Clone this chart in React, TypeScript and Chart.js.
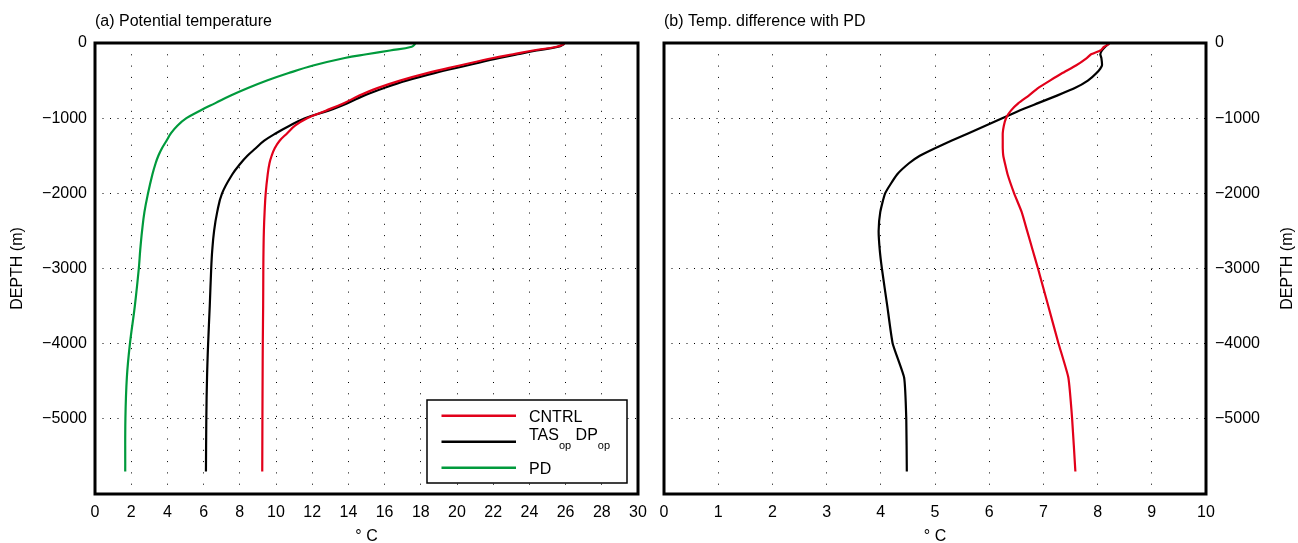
import React, { useEffect, useRef } from 'react';
import { Chart, registerables } from 'chart.js';

Chart.register(...registerables);

const FONT = '"Liberation Sans", Arial, Helvetica, sans-serif';

// Depth levels (m) shared by all profiles
const depthLevels = [-10, -50, -100, -150, -200, -300, -400, -500, -600, -700, -800, -900, -1000, -1100, -1200, -1300, -1400, -1500, -1600, -1750, -2000, -2250, -2500, -2750, -3000, -3500, -4000, -4450, -5000, -5700];

// (a) Potential temperature (°C)
const potCNTRL = [25.95, 25.5, 24.2, 23.1, 22.0, 20.15, 18.35, 16.85, 15.6, 14.6, 13.75, 12.75, 11.72, 11.05, 10.62, 10.2, 9.93, 9.76, 9.64, 9.54, 9.43, 9.37, 9.33, 9.31, 9.3, 9.29, 9.27, 9.26, 9.25, 9.24];
const potTAS = [25.95, 25.6, 24.4, 23.35, 22.35, 20.55, 18.75, 17.2, 15.95, 14.85, 13.95, 12.9, 11.6, 10.75, 10.0, 9.35, 8.88, 8.42, 8.05, 7.58, 7.02, 6.75, 6.58, 6.48, 6.42, 6.34, 6.25, 6.19, 6.15, 6.13];
const potPD = [17.7, 17.5, 16.3, 15.0, 13.8, 12.05, 10.7, 9.5, 8.45, 7.5, 6.65, 5.8, 5.05, 4.55, 4.2, 3.95, 3.7, 3.5, 3.35, 3.17, 2.93, 2.73, 2.6, 2.5, 2.42, 2.2, 1.93, 1.76, 1.68, 1.67];

// (b) Temperature difference with PD (°C)
const diffCNTRL = [8.22, 8.12, 8.05, 7.88, 7.8, 7.6, 7.35, 7.12, 6.9, 6.73, 6.54, 6.4, 6.31, 6.27, 6.25, 6.25, 6.25, 6.26, 6.29, 6.34, 6.46, 6.6, 6.7, 6.8, 6.9, 7.09, 7.28, 7.46, 7.53, 7.59];
const diffTAS = [8.2, 8.14, 8.08, 8.05, 8.07, 8.08, 7.98, 7.82, 7.58, 7.25, 6.9, 6.55, 6.24, 5.93, 5.62, 5.3, 5.0, 4.72, 4.52, 4.3, 4.08, 3.99, 3.96, 3.98, 4.02, 4.12, 4.22, 4.43, 4.47, 4.48];

const seriesLabels = ['CNTRL', 'TAS_{op} DP_{op}', 'PD'];
const seriesColors = ['#e2001a', '#000000', '#009a3c'];

const titleA = '(a) Potential temperature';
const titleB = '(b) Temp. difference with PD';
const xAxisLabel = '\u00B0 C';
const yAxisLabel = 'DEPTH (m)';

const toPoints = (vals: number[]) => vals.map((t, i) => ({ x: t, y: depthLevels[i] }));

const fmtDepth = (v: any) => {
  const n = Number(v);
  if (n === -6000) return '';
  return n < 0 ? '\u2212' + Math.abs(n) : String(n);
};

const framePlugin = {
  id: 'frame',
  afterDraw(chart: any, _args: any, opts: any) {
    const { ctx, chartArea: a } = chart;
    ctx.save();
    ctx.strokeStyle = '#000';
    ctx.lineWidth = 3;
    ctx.strokeRect(a.left, a.top, a.right - a.left, a.bottom - a.top);
    ctx.fillStyle = '#000';
    ctx.font = `16px ${FONT}`;
    ctx.textAlign = 'left';
    ctx.textBaseline = 'alphabetic';
    ctx.fillText(opts.title, a.left, 25.5);
    ctx.textAlign = 'center';
    ctx.fillText(xAxisLabel, (a.left + a.right) / 2, 541);
    ctx.translate(opts.yLabelX, (a.top + a.bottom) / 2);
    ctx.rotate(-Math.PI / 2);
    ctx.textBaseline = 'middle';
    ctx.fillText(yAxisLabel, 0, 0);
    ctx.restore();
  },
};

const parseLabel = (s: string) => {
  const parts: { text: string; sub: boolean }[] = [];
  const re = /_\{([^}]*)\}/g;
  let last = 0;
  let m: RegExpExecArray | null;
  while ((m = re.exec(s))) {
    if (m.index > last) parts.push({ text: s.slice(last, m.index), sub: false });
    parts.push({ text: m[1], sub: true });
    last = m.index + m[0].length;
  }
  if (last < s.length) parts.push({ text: s.slice(last), sub: false });
  return parts;
};

const legendPlugin = {
  id: 'subLegend',
  afterDraw(chart: any) {
    const { ctx, chartArea: a } = chart;
    const w = 200, h = 83;
    const x0 = a.right - 11 - w, y0 = a.bottom - 11 - h;
    ctx.save();
    ctx.fillStyle = '#fff';
    ctx.fillRect(x0, y0, w, h);
    ctx.strokeStyle = '#000';
    ctx.lineWidth = 1.5;
    ctx.strokeRect(x0, y0, w, h);
    ctx.textAlign = 'left';
    ctx.textBaseline = 'alphabetic';
    chart.data.datasets.forEach((ds: any, i: number) => {
      const ly = y0 + 15.7 + 26 * i;
      ctx.strokeStyle = ds.borderColor;
      ctx.lineWidth = 2.5;
      ctx.beginPath();
      ctx.moveTo(x0 + 14.5, ly);
      ctx.lineTo(x0 + 89, ly);
      ctx.stroke();
      const parts = parseLabel(ds.label);
      const hasSub = parts.some((p) => p.sub);
      const base = hasSub ? ly - 1.7 : ly + 6.2;
      let tx = x0 + 102;
      ctx.fillStyle = '#000';
      for (const p of parts) {
        ctx.font = p.sub ? `11px ${FONT}` : `16px ${FONT}`;
        ctx.fillText(p.text, tx, p.sub ? base + 9 : base);
        tx += ctx.measureText(p.text).width;
      }
    });
    ctx.restore();
  },
};

const tickFont = { size: 16, family: FONT };

const makeDataset = (label: string, color: string, vals: number[], tension: number) => ({
  label,
  data: toPoints(vals),
  borderColor: color,
  backgroundColor: color,
  borderWidth: 2.2,
  showLine: true,
  pointRadius: 0,
  pointHoverRadius: 0,
  fill: false,
  tension,
});

const yScale = (position: string, width: number, padding: number) => ({
  type: 'linear',
  position,
  min: -6000,
  max: 0,
  afterFit: (s: any) => {
    s.width = width;
    s.paddingTop = 0;
    s.paddingBottom = 0;
  },
  ticks: { stepSize: 1000, padding, color: '#000', font: tickFont, callback: fmtDepth },
  grid: { color: '#000', lineWidth: 1, drawTicks: false },
  border: { display: false, dash: [1, 6.5] },
});

const xScale = (max: number, step: number) => ({
  type: 'linear',
  position: 'bottom',
  min: 0,
  max,
  afterFit: (s: any) => {
    s.height = 49;
    s.paddingLeft = 0;
    s.paddingRight = 0;
  },
  ticks: { stepSize: step, autoSkip: false, maxRotation: 0, padding: 9, color: '#000', font: tickFont },
  grid: { color: '#000', lineWidth: 1, drawTicks: false },
  border: { display: false, dash: [1, 10.3] },
});

export default function App() {
  const leftRef = useRef<HTMLCanvasElement>(null);
  const rightRef = useRef<HTMLCanvasElement>(null);

  useEffect(() => {
    Chart.defaults.font.family = FONT;
    const cfgA: any = {
      type: 'scatter',
      data: {
        datasets: [
          makeDataset(seriesLabels[0], seriesColors[0], potCNTRL, 0.4),
          makeDataset(seriesLabels[1], seriesColors[1], potTAS, 0.4),
          makeDataset(seriesLabels[2], seriesColors[2], potPD, 0.4),
        ],
      },
      options: {
        animation: false,
        responsive: false,
        maintainAspectRatio: false,
        devicePixelRatio: 1,
        layout: { padding: { top: 43, right: 12, bottom: 0, left: 0 } },
        scales: { x: xScale(30, 2), y: yScale('left', 95, 8) },
        plugins: {
          legend: { display: false },
          tooltip: { enabled: false },
          frame: { title: titleA, yLabelX: 18 },
        },
      },
      plugins: [framePlugin, legendPlugin],
    };
    const cfgB: any = {
      type: 'scatter',
      data: {
        datasets: [
          makeDataset(seriesLabels[0], seriesColors[0], diffCNTRL, 0.15),
          makeDataset(seriesLabels[1], seriesColors[1], diffTAS, 0.15),
        ],
      },
      options: {
        animation: false,
        responsive: false,
        maintainAspectRatio: false,
        devicePixelRatio: 1,
        layout: { padding: { top: 43, right: 0, bottom: 0, left: 14 } },
        scales: { x: xScale(10, 1), y: yScale('right', 92, 9) },
        plugins: {
          legend: { display: false },
          tooltip: { enabled: false },
          frame: { title: titleB, yLabelX: 638 },
        },
      },
      plugins: [framePlugin],
    };
    const c1 = new Chart(leftRef.current as HTMLCanvasElement, cfgA);
    const c2 = new Chart(rightRef.current as HTMLCanvasElement, cfgB);
    return () => {
      c1.destroy();
      c2.destroy();
    };
  }, []);

  return (
    <div style={{ position: 'absolute', left: 0, top: 0, width: 1298, height: 543, background: '#fff' }}>
      <canvas ref={leftRef} width={650} height={543} style={{ position: 'absolute', left: 0, top: 0, width: 650, height: 543 }} />
      <canvas ref={rightRef} width={648} height={543} style={{ position: 'absolute', left: 650, top: 0, width: 648, height: 543 }} />
    </div>
  );
}
